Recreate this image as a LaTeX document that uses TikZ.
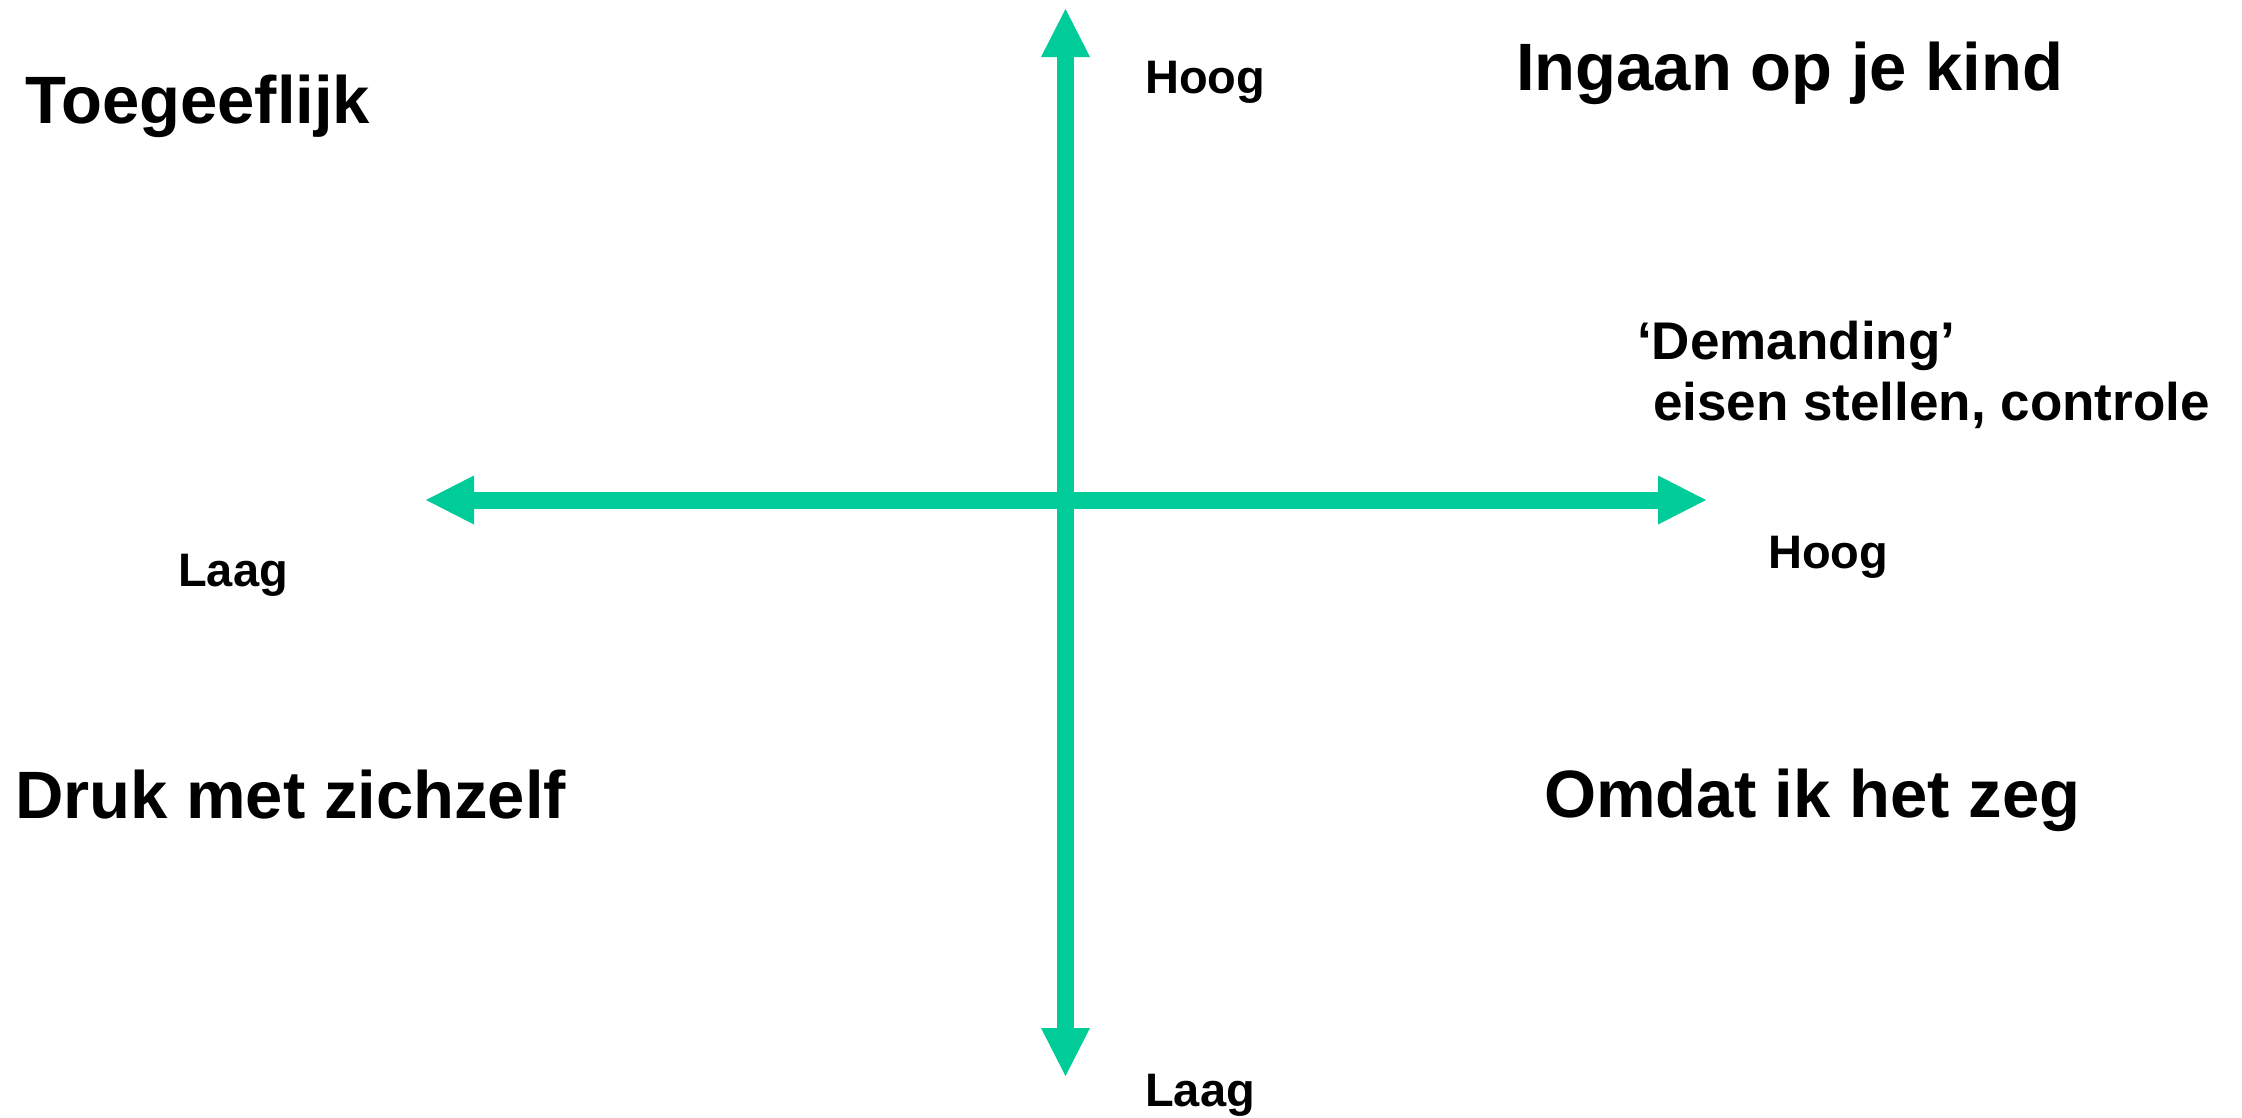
\documentclass[tikz,border=0pt]{standalone}
\usepackage{fontspec}
\setmainfont{Liberation Sans}
\usetikzlibrary{arrows.meta}
\definecolor{axisgreen}{RGB}{0,204,153}
\tikzset{
  axis/.style={line width=17pt, color=axisgreen,
    {Triangle[length=48pt,width=49pt,line width=0pt]}-{Triangle[length=48pt,width=49pt,line width=0pt]}},
  quadrant/.style={anchor=base west, inner sep=0pt, font=\bfseries\fontsize{67}{80}\selectfont},
  level/.style={anchor=base west, inner sep=0pt, font=\bfseries\fontsize{47}{55}\selectfont},
  axislabel/.style={anchor=base west, inner sep=0pt, align=left, font=\bfseries\fontsize{53}{61}\selectfont},
}
\begin{document}
\begin{tikzpicture}[x=1pt, y=-1pt]
\useasboundingbox (0,0) rectangle (2242,1117);
% axes
\coordinate (top) at (1065.5,9);
\coordinate (bottom) at (1065.5,1076);
\coordinate (left) at (426,500);
\coordinate (right) at (1706,500);
\draw[axis] (bottom) -- (top);
\draw[axis] (left) -- (right);
% quadrants
\node[quadrant] (toegeeflijk) at (25,123) {Toegeeflijk};
\node[quadrant] (ingaan) at (1516,90) {Ingaan op je kind};
\node[quadrant] (druk) at (15,818) {Druk met zichzelf};
\node[quadrant] (omdat) at (1544,817) {Omdat ik het zeg};
% scale ends
\node[level] (hoogtop) at (1145,93) {Hoog};
\node[level] (laagbottom) at (1145,1106) {Laag};
\node[level] (laagleft) at (178,586) {Laag};
\node[level] (hoogright) at (1768,568) {Hoog};
\node[axislabel] (demanding) at (1637,420) {‘Demanding’\\\hspace*{0.3em}eisen stellen, controle};
\end{tikzpicture}
\end{document}
